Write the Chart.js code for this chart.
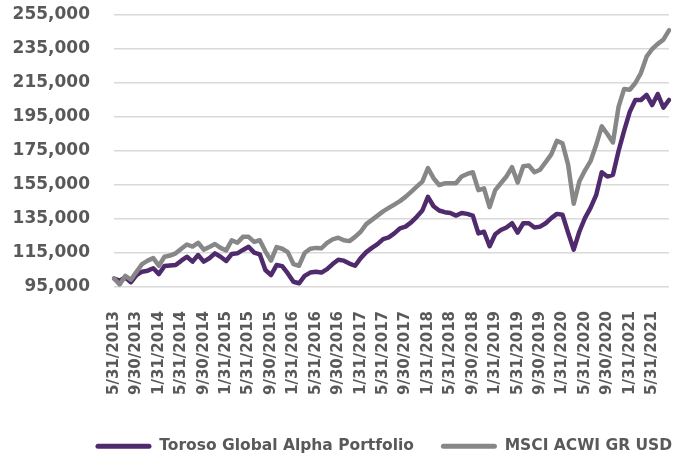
<!DOCTYPE html>
<html>
<head>
<meta charset="utf-8">
<script src="https://cdn.jsdelivr.net/npm/chart.js@4.4.1/dist/chart.umd.min.js"></script>
<style>
  html, body { margin: 0; padding: 0; background: #ffffff; }
  #wrap { width: 686px; height: 455px; position: relative; }
</style>
</head>
<body>
<div id="wrap"><canvas id="chart"></canvas></div>
<script>
// ===== GROWTH OF 100,000 =====
const SERIES_NAMES = ['Toroso Global Alpha Portfolio', 'MSCI ACWI GR USD'];
const SERIES_COLORS = ['#4f2a6c', '#878787'];

// month-end dates, 5/31/2013 .. 8/31/2021
const START_YEAR = 2013;
const START_MONTH = 5;
const MONTH_COUNT = 100;
const LABEL_EVERY = 4;

const Y_MIN = 95000;
const Y_MAX = 255000;
const Y_STEP = 20000;

const TOROSO = [
  100000, 98700, 100700, 97800, 102000, 104000, 104600, 106000, 102600, 107300,
  107700, 107900, 110500, 112800, 109900, 113800, 109900, 111900, 114800, 112800,
  110300, 114400, 114800, 116800, 118700, 115200, 114200, 105000, 102000, 107900,
  107300, 103000, 98100, 97200, 101500, 103500, 104000, 103500, 105500, 108500,
  111000, 110500, 108800, 107500, 112000, 115500, 118000, 120200, 123200, 124200,
  126500, 129500, 130500, 133000, 136300, 140000, 148000, 142500, 140000, 139000,
  138500, 137000, 138500, 138000, 137000, 126500, 127500, 119000, 126000, 128500,
  130000, 132500, 127000, 132500, 132500, 130000, 130500, 132500, 135500, 138000,
  137500, 127000, 117000, 127500, 135500, 141500, 149000, 162500, 160000, 161000,
  175000, 187000, 198000, 205000, 205000, 208000, 202000, 208500, 200500, 205000
];

const MSCI_ACWI = [
  100000, 96500, 101500, 99300, 104000, 108500, 110500, 112000, 107500, 112800,
  113500, 114800, 117500, 120000, 118800, 121000, 117000, 118500, 120300, 118000,
  116500, 122500, 121000, 124500, 124500, 121500, 122500, 116000, 110500, 118500,
  117500, 115500, 108500, 107500, 115000, 117500, 118000, 117800, 121000, 123000,
  124000, 122500, 122000, 124500, 127500, 132000, 134500, 137000, 139500, 141500,
  143500, 145500, 148000, 151000, 154000, 157000, 165000, 159000, 155000, 156000,
  156000, 156000, 160000, 161500, 162500, 152000, 153000, 142000, 152000, 156000,
  160000, 165500, 156500, 166000, 166500, 162500, 164000, 168500, 173000, 181000,
  179500, 167000, 144000, 157000, 163500, 169000, 178500, 189500, 185000, 180000,
  201000, 211500, 211000, 215000, 221000, 230500, 235000, 238000, 240500, 246000
];

function monthEndLabels(year, month, count) {
  const out = [];
  for (let i = 0; i < count; i++) {
    const m0 = month - 1 + i;
    const y = year + Math.floor(m0 / 12);
    const m = (m0 % 12) + 1;
    const d = new Date(y, m, 0).getDate();
    out.push(m + '/' + d + '/' + y);
  }
  return out;
}

const DATES = monthEndLabels(START_YEAR, START_MONTH, MONTH_COUNT);

const TEXT = '#595959';
const GRID = '#d9d9d9';
const FONT = "'DejaVu Sans', Verdana, sans-serif";

// nudge the legend box to where the original sits (lower and to the right)
const legendNudge = {
  id: 'legendNudge',
  afterLayout(chart) {
    const lg = chart.legend;
    if (!lg) return;
    lg.left += 43; lg.right += 43;
    lg.top += 9; lg.bottom += 9;
  }
};

// grey series listed first so it is drawn on top; legend reversed back
const seriesOrder = [1, 0];
const seriesData = [TOROSO, MSCI_ACWI];

new Chart(document.getElementById('chart'), {
  type: 'line',
  data: {
    labels: DATES,
    datasets: seriesOrder.map(i => ({
      label: SERIES_NAMES[i],
      data: seriesData[i],
      borderColor: SERIES_COLORS[i],
      backgroundColor: SERIES_COLORS[i],
      borderWidth: 4.5,
      pointRadius: 0,
      tension: 0,
      borderJoinStyle: 'round',
      borderCapStyle: 'round'
    }))
  },
  plugins: [legendNudge],
  options: {
    responsive: true,
    maintainAspectRatio: false,
    animation: false,
    layout: { padding: { left: 12.6, right: 17, top: 15, bottom: 0 } },
    plugins: {
      legend: {
        position: 'bottom',
        reverse: true,
        labels: {
          color: TEXT,
          font: { family: FONT, size: 15.5, weight: 'bold' },
          boxWidth: 56,
          boxHeight: 5,
          useBorderRadius: true,
          borderRadius: 2.5,
          padding: 27,
          generateLabels: (chart) =>
            Chart.defaults.plugins.legend.labels.generateLabels(chart)
              .map(it => ({ ...it, lineWidth: 0 }))
        }
      }
    },
    scales: {
      x: {
        grid: { display: false },
        border: { display: false },
        ticks: {
          autoSkip: false,
          maxRotation: 90,
          minRotation: 90,
          padding: 16,
          color: TEXT,
          font: { family: FONT, size: 15, weight: 'bold' },
          callback: (v, i) => (i % LABEL_EVERY === 0 ? DATES[i] : null)
        },
        afterFit: (s) => { s.height = 115.5; s.paddingLeft = 0; s.paddingRight = 0; }
      },
      y: {
        min: Y_MIN,
        max: Y_MAX,
        grid: { color: GRID, lineWidth: 1.5, drawTicks: true, tickLength: 24, tickColor: 'rgba(0,0,0,0)' },
        border: { display: false },
        ticks: {
          stepSize: Y_STEP,
          padding: 0,
          color: TEXT,
          font: { family: FONT, size: 17, weight: 'bold' }
        }
      }
    }
  }
});
</script>
</body>
</html>
